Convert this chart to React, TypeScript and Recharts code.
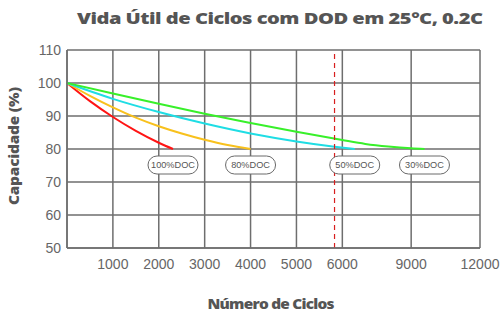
import { LineChart, Line, XAxis, YAxis, CartesianGrid, ReferenceLine, Label } from 'recharts'

// cycle counts on the x axis; the scale is stretched above 6000 (each tick step is 2000 there)
const cycleTicks = [1000, 2000, 3000, 4000, 5000, 6000, 9000, 12000]
const capacityTicks = [50, 60, 70, 80, 90, 100, 110]

// [cycles, capacity %] for each depth of discharge
const doc100 = [[0, 100], [500, 94.5], [1000, 89.7], [1500, 85.5], [2000, 81.9], [2310, 80]]
const doc80 = [[0, 100], [500, 96.1], [1000, 92.6], [1500, 89.5], [2000, 86.9], [2500, 84.7], [3000, 82.8], [3500, 81.2], [4000, 80]]
const doc50 = [[0, 100], [1000, 95.2], [2000, 91.2], [3000, 87.7], [4000, 84.7], [5000, 82.3], [5830, 80.7], [6540, 80]]
const doc30 = [[0, 100], [1000, 96.8], [2000, 93.7], [3000, 90.7], [4000, 87.9], [5000, 85.2], [6000, 82.7], [7000, 81.55], [8000, 80.75], [9000, 80.2], [9580, 80]]

const markerCycles = 5830

const toPos = (c: number) => (c <= 6000 ? c / 1000 : 6 + (c - 6000) / 2000)
const fromPos = (p: number) => Math.round(p <= 6 ? p * 1000 : 6000 + (p - 6) * 2000)

const toPoints = (rows: number[][]) => rows.map(([c, v]) => ({ pos: toPos(c), cap: v }))

const series = [
  { name: '100%DOC', rows: doc100, color: '#ff1414' },
  { name: '80%DOC', rows: doc80, color: '#f8c11d' },
  { name: '50%DOC', rows: doc50, color: '#1fdde4' },
  { name: '30%DOC', rows: doc30, color: '#38f02a' },
]

const axisFont = '"Liberation Sans", Arial, sans-serif'
const heavyFont = '"Open Sans", Lato, sans-serif'

// wide heavy heading: glyphs stretched horizontally, spacing fitted to the given width
const WideText = ({ x, y, width, size, stretch, text, rotate }: {
  x: number; y: number; width: number; size: number; stretch: number; text: string; rotate?: boolean
}) => (
  <g transform={`translate(${x} ${y})${rotate ? ' rotate(-90)' : ''} scale(${stretch} 1)`}>
    <text x={0} y={0} dominantBaseline="central" textLength={width / stretch} lengthAdjust="spacing"
      fontFamily={heavyFont} fontWeight={800} fontSize={size} fill="#555">{text}</text>
  </g>
)

// rounded tag under the last point of a curve
const pill = (text: string, last: number) => (props: any) => {
  if (props.index !== last) return null
  const { x, y } = props
  const w = 50
  const h = 18
  return (
    <g>
      <rect x={x - w / 2} y={y + 16 - h / 2} width={w} height={h} rx={9} ry={9}
        fill="#fff" stroke="#6a6a6a" strokeWidth={1} />
      <text x={x} y={y + 16} textAnchor="middle" dominantBaseline="central"
        fontSize={9.2} fontFamily={axisFont} fill="#555">{text}</text>
    </g>
  )
}

export default function App() {
  return (
    <div style={{ position: 'absolute', left: 0, top: 0, width: 501, height: 313, background: '#fff' }}>
      <svg width={501} height={40} style={{ position: 'absolute', left: 0, top: 0 }}>
        <WideText x={77} y={17} width={406} size={16.5} stretch={1.22}
          text="Vida Útil de Ciclos com DOD em 25°C, 0.2C" />
      </svg>
      <LineChart width={501} height={313} margin={{ top: 50, right: 21, bottom: 35, left: 0 }}
        style={{ position: 'absolute', left: 0, top: 0 }}>
        <CartesianGrid stroke="#6e6e6e" strokeWidth={1.5} />
        <XAxis type="number" dataKey="pos" domain={[0, 9]} ticks={cycleTicks.map(toPos)}
          tickFormatter={(p: number) => String(fromPos(p))} allowDuplicatedCategory={false}
          height={30} tickLine={false} tickSize={0} tickMargin={11}
          axisLine={{ stroke: '#6e6e6e', strokeWidth: 1.5 }}
          tick={{ fontSize: 14, fill: '#666', fontFamily: axisFont }}>
          <Label content={(p: any) => {
            const vb = p.viewBox
            return (
              <WideText x={vb.x + vb.width / 2 - 66} y={vb.y + vb.height + 25} width={127}
                size={14} stretch={1.1} text="Número de Ciclos" />
            )
          }} />
        </XAxis>
        <YAxis type="number" domain={[50, 110]} ticks={capacityTicks} width={67}
          tickLine={false} tickSize={0} tickMargin={6}
          axisLine={{ stroke: '#6e6e6e', strokeWidth: 1.5 }}
          tick={{ fontSize: 14, fill: '#666', fontFamily: axisFont }}>
          <Label content={(p: any) => {
            const vb = p.viewBox
            const cy = vb.y + vb.height / 2 - 3
            return (
              <WideText x={13} y={cy + 59} width={118} size={14} stretch={1.1} rotate
                text="Capacidade (%)" />
            )
          }} />
        </YAxis>
        {series.map((s) => (
          <Line key={s.name} data={toPoints(s.rows)} dataKey="cap" type="monotone"
            stroke={s.color} strokeWidth={2} dot={false} activeDot={false}
            isAnimationActive={false} label={pill(s.name, s.rows.length - 1)} />
        ))}
        <ReferenceLine x={toPos(markerCycles)} stroke="#d81e1e" strokeWidth={1.2} strokeDasharray="5 4" />
      </LineChart>
    </div>
  )
}
